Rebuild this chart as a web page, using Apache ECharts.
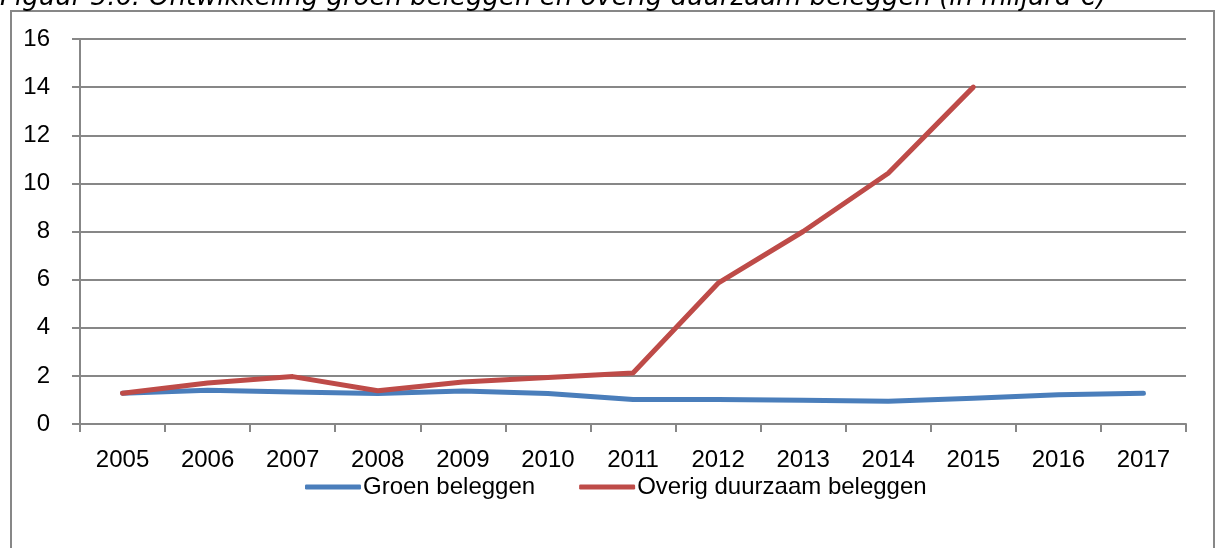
<!DOCTYPE html>
<html>
<head>
<meta charset="utf-8">
<script src="https://cdn.jsdelivr.net/npm/echarts@6/dist/echarts.min.js"></script>
<style>
html,body{margin:0;padding:0;background:#fff;}
#chart{width:1216px;height:548px;}
</style>
</head>
<body>
<div id="chart"></div>
<script>
const titleText = 'Figuur 5.6: Ontwikkeling groen beleggen en overig duurzaam beleggen (in miljard €)';
const categories = ['2005','2006','2007','2008','2009','2010','2011','2012','2013','2014','2015','2016','2017'];
const seriesNames = ['Groen beleggen', 'Overig duurzaam beleggen'];
const groenValues = [1.28, 1.40, 1.33, 1.27, 1.37, 1.27, 1.02, 1.02, 0.99, 0.95, 1.07, 1.22, 1.28];
const overigValues = [1.28, 1.70, 1.97, 1.38, 1.75, 1.93, 2.12, 5.85, 8.0, 10.42, 14.0, null, null];
const yMin = 0, yMax = 16, yInterval = 2;

const chart = echarts.init(document.getElementById('chart'), null, {renderer: 'canvas'});
const labelFont = '"Liberation Sans", Arial, sans-serif';
const gray = '#878787';
chart.setOption({
  animation: false,
  backgroundColor: '#ffffff',
  graphic: [
    {type: 'rect', shape: {x: 11, y: 11, width: 1203, height: 560}, style: {fill: 'none', stroke: gray, lineWidth: 2}, silent: true},
    {type: 'text', x: 0, y: -2, style: {text: titleText, font: 'italic 26px "DejaVu Sans", Verdana, sans-serif', fill: '#000', verticalAlign: 'middle', align: 'left'}, silent: true}
  ],
  grid: {left: 80, right: 30, top: 39, bottom: 124, containLabel: false},
  legend: {
    data: seriesNames,
    top: 470,
    left: 300,
    icon: 'roundRect',
    itemWidth: 56,
    itemHeight: 5,
    itemGap: 44,
    textStyle: {fontFamily: labelFont, fontSize: 24, color: '#000', padding: [0, 0, 0, -3]}
  },
  xAxis: {
    type: 'category',
    data: categories,
    boundaryGap: true,
    axisLine: {lineStyle: {color: gray, width: 2}},
    axisTick: {show: true, length: 8, alignWithLabel: false, lineStyle: {color: gray, width: 2}},
    axisLabel: {color: '#000', fontFamily: labelFont, fontSize: 24, margin: 24},
    splitLine: {show: false}
  },
  yAxis: {
    type: 'value',
    min: yMin, max: yMax, interval: yInterval,
    axisLine: {show: true, lineStyle: {color: gray, width: 2}},
    axisTick: {show: true, length: 8, lineStyle: {color: gray, width: 2}},
    axisLabel: {color: '#000', fontFamily: labelFont, fontSize: 24, margin: 30},
    splitLine: {show: true, lineStyle: {color: gray, width: 2}}
  },
  series: [
    {name: seriesNames[0], type: 'line', data: groenValues, symbol: 'none', color: '#4a7ebb',
     lineStyle: {width: 5, color: '#4a7ebb', cap: 'round', join: 'round'}, z: 2},
    {name: seriesNames[1], type: 'line', data: overigValues, symbol: 'none', color: '#be4b48',
     lineStyle: {width: 5, color: '#be4b48', cap: 'round', join: 'round'}, z: 3}
  ]
});
</script>
</body>
</html>
